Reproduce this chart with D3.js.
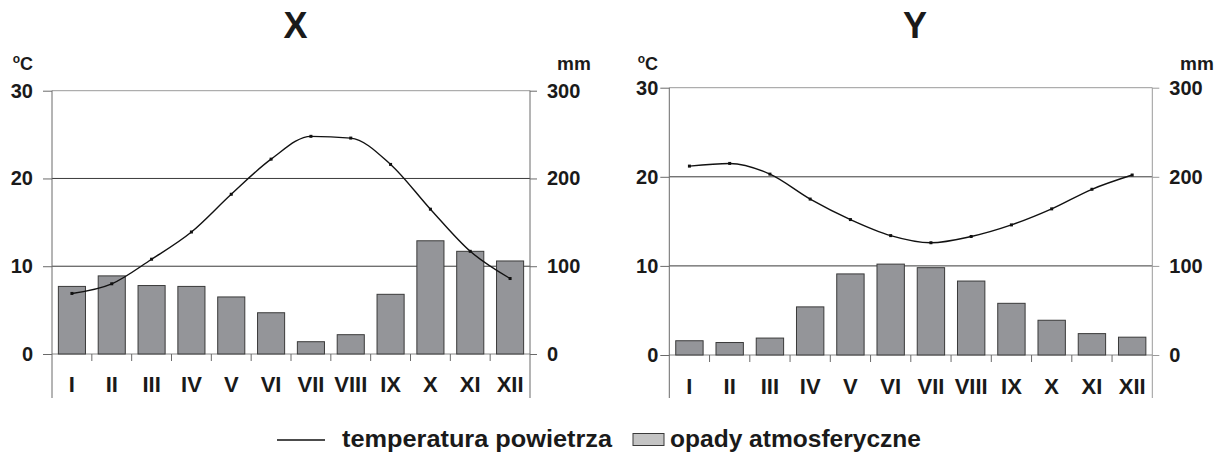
<!DOCTYPE html>
<html><head><meta charset="utf-8">
<script src="https://cdn.jsdelivr.net/npm/d3@7"></script>
<style>
html,body{margin:0;padding:0;background:#fff;}
svg{display:block;}
text{font-family:"Liberation Sans",Arial,sans-serif;font-weight:bold;fill:#1a1a1a;}
.narrow{font-family:"Liberation Sans Narrow","Arial Narrow","Liberation Sans",Arial,sans-serif;}
</style>
</head><body>
<svg id="chart" width="1227" height="455"></svg>
<script>
const months = ["I","II","III","IV","V","VI","VII","VIII","IX","X","XI","XII"];
const tempX = [6.9, 8.0, 10.8, 13.9, 18.2, 22.2, 24.8, 24.6, 21.6, 16.5, 11.7, 8.6];
const precipX = [77, 89, 78, 77, 65, 47, 14, 22, 68, 129, 117, 106];
const tempY = [21.2, 21.5, 20.3, 17.5, 15.2, 13.4, 12.6, 13.3, 14.6, 16.4, 18.6, 20.2];
const precipY = [16, 14, 19, 54, 91, 102, 98, 83, 58, 39, 24, 20];
const tempTicks = [0, 10, 20, 30];
const precipTicks = [0, 100, 200, 300];
const titles = ["X", "Y"];
const legendLabels = ["temperatura powietrza", "opady atmosferyczne"];

const svg = d3.select("#chart");

function drawChart(cfg) {
  const g = svg.append("g");
  const x = d3.scaleBand().domain(months).range([cfg.x0, cfg.x1]).paddingInner(0.32).paddingOuter(0.16);
  const xb = d3.scaleBand().domain(months).range([cfg.x0, cfg.x1]);
  const yT = d3.scaleLinear().domain([0, 30]).range([cfg.y0, cfg.y1]);
  const yP = d3.scaleLinear().domain([0, 300]).range([cfg.y0, cfg.y1]);

  g.selectAll(".grid").data(tempTicks).join("line")
    .attr("x1", cfg.x0).attr("x2", cfg.x1)
    .attr("y1", d => yT(d)).attr("y2", d => yT(d))
    .attr("stroke", d => d === 30 ? "#9a9a9a" : (d === 0 ? "#888" : "#3a3a3a"))
    .attr("stroke-width", 1);

  g.selectAll(".bar").data(cfg.precip).join("rect")
    .attr("x", (d, i) => x(months[i]))
    .attr("width", x.bandwidth())
    .attr("y", d => yP(d))
    .attr("height", d => yP(0) - yP(d))
    .attr("fill", "#949599")
    .attr("stroke", "#3a3a3a")
    .attr("stroke-width", 1);

  [cfg.x0, cfg.x1].forEach((xx, k) => {
    g.append("line").attr("x1", xx).attr("x2", xx)
      .attr("y1", yT(30)).attr("y2", cfg.axisBottom)
      .attr("stroke", k === 0 ? "#6a6a6a" : cfg.rightAxisColor).attr("stroke-width", 1);
  });

  const axL = d3.axisLeft(yT).tickValues(tempTicks).tickSize(9).tickPadding(cfg.leftPad).tickFormat(d3.format("d"));
  const gl = g.append("g").attr("transform", `translate(${cfg.x0},0)`).call(axL);
  gl.select(".domain").remove();
  gl.selectAll(".tick line").attr("stroke", "#6a6a6a");
  gl.selectAll(".tick text").attr("font-size", 20).attr("fill", "#1a1a1a")
    .attr("font-family", "Liberation Sans, Arial, sans-serif").attr("font-weight", "bold");

  const axR = d3.axisRight(yP).tickValues(precipTicks).tickSize(7).tickPadding(10).tickFormat(d3.format("d"));
  const gr = g.append("g").attr("transform", `translate(${cfg.x1},0)`).call(axR);
  gr.select(".domain").remove();
  gr.selectAll(".tick line").attr("stroke", cfg.rightAxisColor);
  gr.selectAll(".tick text").attr("font-size", 20).attr("fill", "#1a1a1a")
    .attr("font-family", "Liberation Sans, Arial, sans-serif").attr("font-weight", "bold");

  g.selectAll(".ctick").data(months.slice(1)).join("line")
    .attr("x1", d => xb(d)).attr("x2", d => xb(d))
    .attr("y1", yT(0)).attr("y2", yT(0) + 7)
    .attr("stroke", "#6a6a6a");

  g.selectAll(".clab").data(months).join("text")
    .attr("class", "narrow")
    .attr("x", d => xb(d) + xb.bandwidth() / 2)
    .attr("y", cfg.catBaseline)
    .attr("text-anchor", "middle")
    .attr("font-size", 22)
    .text(d => d);

  const line = d3.line()
    .x((d, i) => xb(months[i]) + xb.bandwidth() / 2)
    .y(d => yT(d))
    .curve(d3.curveMonotoneX);
  g.append("path").datum(cfg.temp).attr("d", line)
    .attr("fill", "none").attr("stroke", "#111").attr("stroke-width", 1.4);
  g.selectAll(".pt").data(cfg.temp).join("rect")
    .attr("x", (d, i) => xb(months[i]) + xb.bandwidth() / 2 - 1.5)
    .attr("y", d => yT(d) - 1.5)
    .attr("width", 3).attr("height", 3).attr("fill", "#111");

  g.append("text").attr("x", cfg.degX).attr("y", 70).attr("font-size", 18).attr("text-anchor", "end")
    .html('<tspan dy="-7" font-size="12">o</tspan><tspan dy="7">C</tspan>');
  g.append("text").attr("x", cfg.mmX).attr("y", 70).attr("font-size", 19).text("mm");

  g.append("text").attr("x", cfg.titleX).attr("y", 38).attr("text-anchor", "middle")
    .attr("font-size", 36).text(cfg.title);
}

drawChart({x0: 52, x1: 530, y0: 354, y1: 90.7, axisBottom: 398, temp: tempX, precip: precipX,
  leftPad: 10, rightAxisColor: "#6a6a6a", catBaseline: 392, degX: 33, mmX: 557, titleX: 295.5, title: titles[0]});
drawChart({x0: 669.3, x1: 1152.3, y0: 355, y1: 87.7, axisBottom: 398, temp: tempY, precip: precipY,
  leftPad: 2, rightAxisColor: "#9a9a9a", catBaseline: 394, degX: 658, mmX: 1180, titleX: 915, title: titles[1]});

const lg = svg.append("g");
lg.append("line").attr("x1", 277).attr("x2", 325).attr("y1", 440).attr("y2", 440)
  .attr("stroke", "#111").attr("stroke-width", 1.5);
lg.append("text").attr("x", 342).attr("y", 447).attr("font-size", 24)
  .attr("textLength", 270).attr("lengthAdjust", "spacingAndGlyphs").text(legendLabels[0]);
lg.append("rect").attr("x", 633).attr("y", 433.5).attr("width", 31).attr("height", 12)
  .attr("fill", "#c4c4c4").attr("stroke", "#3a3a3a").attr("stroke-width", 1);
lg.append("text").attr("x", 670).attr("y", 447).attr("font-size", 24)
  .attr("textLength", 251).attr("lengthAdjust", "spacingAndGlyphs").text(legendLabels[1]);
</script>
</body></html>
